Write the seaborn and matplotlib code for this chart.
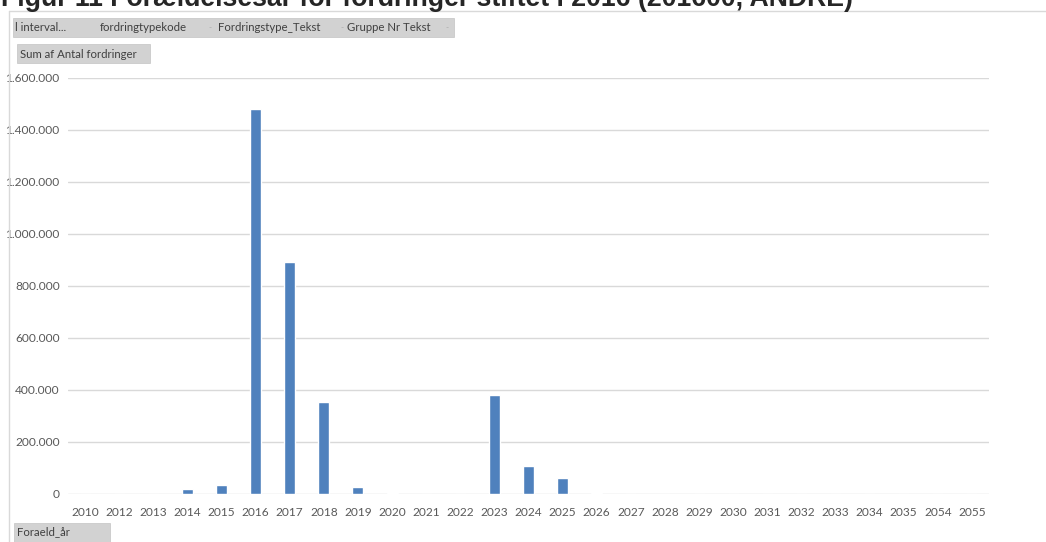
import matplotlib
matplotlib.use("Agg")
import matplotlib.pyplot as plt
import seaborn as sns
import pandas as pd
from matplotlib.patches import Rectangle
from matplotlib.lines import Line2D

# data
years = ["2010", "2012", "2013", "2014", "2015", "2016", "2017", "2018", "2019",
         "2020", "2021", "2022", "2023", "2024", "2025", "2026", "2027", "2028",
         "2029", "2030", "2031", "2032", "2033", "2034", "2035", "2054", "2055"]
antal = [200, 300, 300, 19000, 36000, 1479000, 893000, 354000, 26000,
         3000, 500, 500, 381000, 108000, 63000, 3000, 500, 500,
         500, 500, 500, 500, 1500, 500, 500, 300, 300]
y_ticks = [0, 200000, 400000, 600000, 800000, 1000000, 1200000, 1400000, 1600000]

title = "Figur 11 Forældelsesår for fordringer stiftet i 2016 (201600, ANDRE)"
filter_fields = ["l interval...", "fordringtypekode", "Fordringstype_Tekst", "Gruppe Nr Tekst"]
value_field = "Sum af Antal fordringer"
axis_field = "Foraeld_år"

W, H = 1046, 542
BAR = "#4F81BD"
GRID = "#D9D9D9"
TXT = "#595959"
BTN_TXT = "#404040"

sns.set_style("white")
plt.rcParams["font.family"] = ["Lato", "DejaVu Sans"]

df = pd.DataFrame({"year": years, "antal": antal})

fig = plt.figure(figsize=(W / 100, H / 100), dpi=100)


def fx(px):
    return px / W


def fy(py):
    return 1 - py / H


ax = fig.add_axes([fx(68), fy(494), fx(921), 416 / H])
sns.barplot(data=df, x="year", y="antal", color=BAR, width=0.32,
            saturation=1, ax=ax)
ax.set_xlim(-0.5, len(years) - 0.5)
ax.set_ylim(0, 1600000)
ax.set_yticks(y_ticks)
ax.set_yticklabels([f"{v:,}".replace(",", ".") for v in y_ticks])
ax.set_xlabel("")
ax.set_ylabel("")
ax.grid(axis="y", color=GRID, lw=1)
ax.set_axisbelow(True)
for s in ax.spines.values():
    s.set_visible(False)
ax.tick_params(length=0, labelsize=8.6, colors=TXT)
ax.tick_params(axis="y", pad=6)
ax.tick_params(axis="x", pad=9)

# chart border (top and left)
fig.add_artist(Line2D([fx(9), 1], [fy(10.5), fy(10.5)], color=GRID, lw=1))
fig.add_artist(Line2D([fx(9), fx(9)], [fy(10.5), 0], color=GRID, lw=1))

# title, clipped at the top edge as in the source screenshot
fig.text(fx(1), fy(5.5), title, fontsize=19.2, fontweight="bold",
         family=["Liberation Sans", "DejaVu Sans"], va="baseline", ha="left")


def button(x0, y0, x1, y1):
    fig.add_artist(Rectangle((fx(x0), fy(y1)), fx(x1 - x0), (y1 - y0) / H,
                             transform=fig.transFigure, facecolor="#D2D2D2",
                             edgecolor="#C4C4C4", lw=0.5))


# filter field strip
button(13, 18, 454, 37)
for name, x in zip(filter_fields, [15, 100, 218, 347]):
    fig.text(fx(x), fy(27.5), name, fontsize=8.2, color=BTN_TXT, va="center")
for x in [208, 340, 445]:
    fig.text(fx(x), fy(27.5), "-", fontsize=6, color="#A8A8A8", va="center")

# value field button
button(17, 44, 150, 63)
fig.text(fx(20), fy(54), value_field, fontsize=8.2, color=BTN_TXT, va="center")

# axis field button
button(14, 523, 110, 545)
fig.text(fx(17), fy(532), axis_field, fontsize=8.2, color=BTN_TXT, va="center")

fig.savefig("out.png", dpi=100)
